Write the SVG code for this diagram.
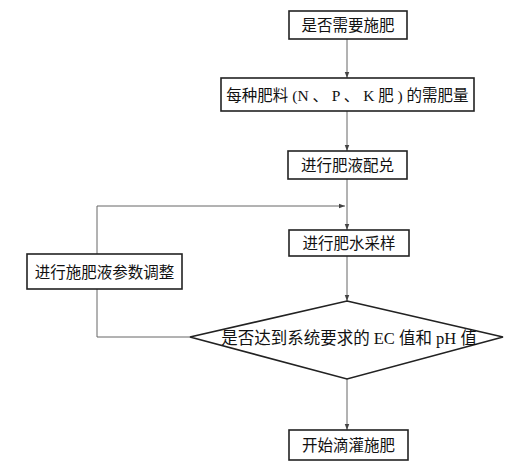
<svg xmlns="http://www.w3.org/2000/svg" width="513" height="464" viewBox="0 0 513 464">
<style>
.box{fill:#fff;stroke:#222;stroke-width:1.6}
.t{font-family:"Liberation Serif","Noto Sans CJK SC",serif;font-size:15.5px;fill:#111;text-anchor:middle;dominant-baseline:central}
.c{fill:none;stroke:#666;stroke-width:1}
</style>
<defs>
<marker id="a" viewBox="0 0 8 8" refX="8" refY="4" markerWidth="6" markerHeight="6" orient="auto" markerUnits="userSpaceOnUse">
<path d="M0,1 L8,4 L0,7 Z" fill="#444"/>
</marker>
</defs>
<rect width="513" height="464" fill="#fff"/>
<g id="connectors">
<line class="c" x1="347" y1="39" x2="347" y2="78" marker-end="url(#a)"/>
<line class="c" x1="347" y1="111" x2="347" y2="151" marker-end="url(#a)"/>
<line class="c" x1="347" y1="179" x2="347" y2="230" marker-end="url(#a)"/>
<line class="c" x1="347" y1="256" x2="347" y2="301" marker-end="url(#a)"/>
<line class="c" x1="347" y1="379" x2="347" y2="430" marker-end="url(#a)"/>
<polyline class="c" points="190,337 97,337 97,289"/>
<polyline class="c" points="97,254 97,206 345,206" marker-end="url(#a)"/>
</g>
<g id="n1"><rect class="box" x="289" y="11" width="118" height="28"/><text class="t" x="348" y="25">是否需要施肥</text></g>
<g id="n2"><rect class="box" x="221" y="78" width="253" height="33"/><text class="t" x="347.5" y="95">每种肥料 (N 、 P 、 K 肥 ) 的需肥量</text></g>
<g id="n3"><rect class="box" x="288" y="151" width="119" height="28"/><text class="t" x="347.5" y="165">进行肥液配兑</text></g>
<g id="n4"><rect class="box" x="289" y="230" width="120" height="26"/><text class="t" x="349" y="243">进行肥水采样</text></g>
<g id="n5"><rect class="box" x="27" y="254" width="155" height="35"/><text class="t" x="104.5" y="272">进行施肥液参数调整</text></g>
<g id="n6"><polygon class="box" points="347,301 503,337 347,379 190,337"/><text class="t" x="349" y="338" style="font-size:16.5px">是否达到系统要求的 EC 值和 pH 值</text></g>
<g id="n7"><rect class="box" x="289" y="430" width="119" height="30"/><text class="t" x="348.5" y="445">开始滴灌施肥</text></g>
</svg>
